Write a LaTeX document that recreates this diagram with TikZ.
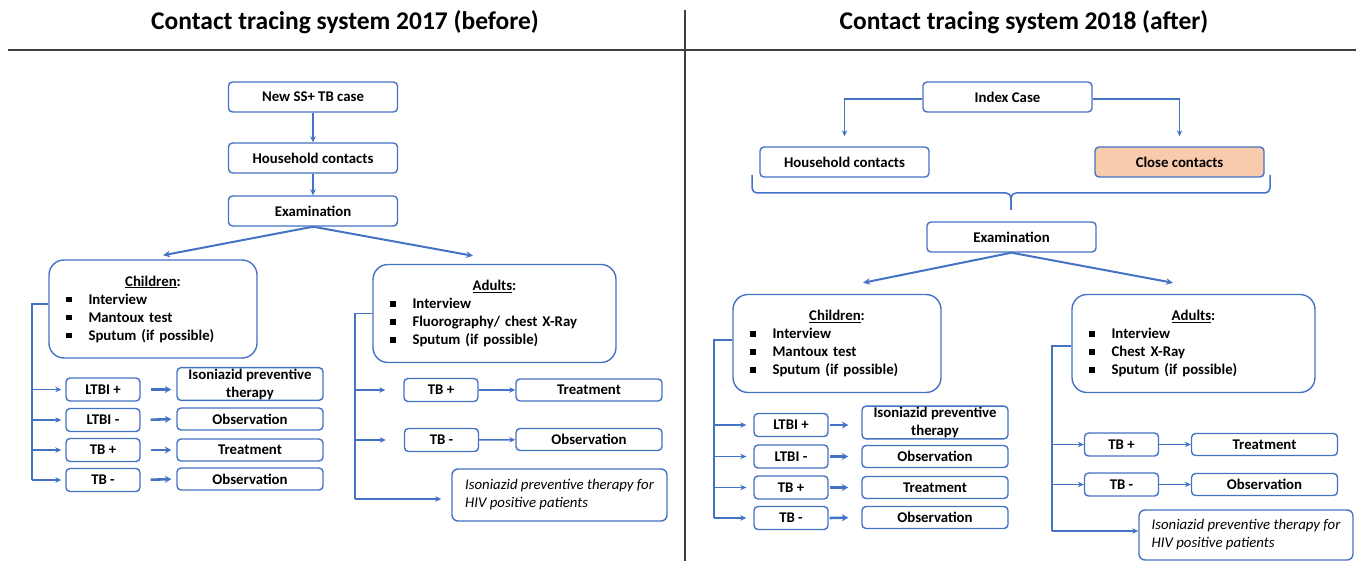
\documentclass[tikz,border=0pt]{standalone}
\usepackage{fontspec}
\setmainfont{Carlito}
\usepackage{tikz}
\usetikzlibrary{arrows.meta, positioning, calc}
\definecolor{boxblue}{HTML}{4472C4}
\definecolor{peach}{HTML}{F8CBAD}
\definecolor{rulegray}{HTML}{3F3F3F}
\newcommand{\boxfont}{\fontsize{14.8}{18}\selectfont\bfseries}
\newcommand{\bulletitem}[1]{\rule[2pt]{5.5pt}{5.5pt}\hspace{17pt}#1}
\tikzset{
  titletext/.style={font=\fontsize{25.5}{30}\selectfont\bfseries, inner sep=0pt},
  flowbox/.style={
    rectangle, rounded corners=4pt,
    minimum width=#1, minimum height=30pt, inner sep=1pt,
    align=center, font=\boxfont,
    draw=boxblue, line width=1.4pt, fill=white
  },
  flowbox/.default=169pt,
  tagbox/.style={flowbox=74pt, minimum height=23pt},
  outbox/.style={flowbox=146pt, minimum height=22pt},
  groupbox/.style={
    rectangle, rounded corners=15pt,
    minimum height=98pt, inner xsep=17pt,
    align=left, font=\boxfont,
    draw=boxblue, line width=1.4pt
  },
  notebox/.style={
    rectangle, rounded corners=6pt,
    minimum width=#1, minimum height=52pt,
    align=left, font=\fontsize{14.8}{18}\selectfont\itshape,
    draw=boxblue, line width=1.4pt
  },
  rulesep/.style={draw=rulegray, line width=1.3pt},
  trunk/.style={draw=boxblue, line width=1.5pt},
  arr/.style={-{Stealth[length=6pt,width=5.5pt]}, draw=boxblue, line width=1.5pt},
  splitarr/.style={-{Stealth[length=7pt,width=6.5pt]}, draw=boxblue, line width=2pt},
  thickarr/.style={-{Stealth[length=6.5pt,width=7pt]}, draw=boxblue, line width=2.6pt},
}

\begin{document}
\begin{tikzpicture}[x=1pt,y=-1pt]
  \useasboundingbox (0,0) rectangle (1356,561);
  \draw[rulesep](8,50)--(1356,50);
  \draw[rulesep](685,10)--(685,561);
  \node[titletext](ttl1)at(345,22){Contact tracing system 2017 (before)};
  \node[titletext](ttl2)at(1024,22){Contact tracing system 2018 (after)};

  \node[flowbox](new1)at(313,97){New SS+ TB case};
  \node[flowbox](hh1)at(313,158){Household contacts};
  \node[flowbox](ex1)at(313,211){Examination};
  \draw[arr](new1)--(hh1);
  \draw[arr](hh1)--(ex1);

  \node[groupbox,text width=174pt](kids1)at(153,309){\makebox[174pt]{\underline{Children}:}\\
    \bulletitem{Interview}\\ \bulletitem{Mantoux test}\\ \bulletitem{Sputum (if possible)}};
  \node[groupbox,text width=209pt](ad1)at(494.5,313.5){\makebox[209pt]{\underline{Adults}:}\\
    \bulletitem{Interview}\\ \bulletitem{Fluorography/ chest X-Ray}\\ \bulletitem{Sputum (if possible)}};
  \draw[splitarr](ex1.south)--([xshift=10pt,yshift=4pt]kids1.north);
  \draw[splitarr](ex1.south)--([xshift=-21.5pt,yshift=8pt]ad1.north);

  \node[tagbox](lp1)at(103,389.5){LTBI +};
  \node[tagbox](lm1)at(103,420){LTBI -};
  \node[tagbox](tp1)at(103,450){TB +};
  \node[tagbox](tm1)at(103,480){TB -};
  \node[outbox,minimum height=32pt](ipt1)at(250,384){Isoniazid preventive\\therapy};
  \node[outbox](obs1)at(250,419){Observation};
  \node[outbox](trt1)at(250,450){Treatment};
  \node[outbox](obs2)at(250,479){Observation};
  \coordinate(t1)at(32,480);
  \draw[trunk]([yshift=5pt]kids1.west)-|(t1);
  \draw[arr,shorten >=4pt](t1 |- lp1)--(lp1.west);
  \draw[arr,shorten >=4pt](t1 |- lm1)--(lm1.west);
  \draw[arr,shorten >=4pt](t1 |- tp1)--(tp1.west);
  \draw[arr,shorten >=4pt](t1)--(tm1.west);
  \draw[thickarr,shorten <=10pt,shorten >=5pt](lp1.east)--(lp1.east -| ipt1.west);
  \draw[thickarr,shorten <=10pt,shorten >=5pt](lm1.east)--(obs1.west);
  \draw[thickarr,shorten <=10pt,shorten >=5pt](tp1.east)--(trt1.west);
  \draw[thickarr,shorten <=10pt,shorten >=5pt](tm1.east)--(obs2.west);

  \node[tagbox](atp1)at(441,390){TB +};
  \node[tagbox](atm1)at(441.5,440){TB -};
  \node[outbox](atrt1)at(589,390){Treatment};
  \node[outbox](aobs1)at(589,439.5){Observation};
  \node[notebox=215pt](hiv1)at(559.5,495){Isoniazid preventive therapy for\\HIV positive patients};
  \coordinate(t2)at(355,499);
  \draw[trunk](ad1.west)-|(t2);
  \draw[arr,shorten >=18pt](t2 |- atp1)--(atp1.west);
  \draw[arr,shorten >=18pt](t2 |- atm1)--(atm1.west);
  \draw[arr,shorten >=10pt](t2)--(t2 -| hiv1.west);
  \draw[arr](atp1)--(atrt1);
  \draw[arr](atm1)--(aobs1);

  \node[flowbox](idx)at(1007.5,97){Index Case};
  \node[flowbox](hh2)at(844.5,162){Household contacts};
  \node[flowbox,fill=peach](cc2)at(1179.5,162){Close contacts};
  \draw[arr,shorten >=10pt]([yshift=-2pt]idx.west)-|(hh2.north);
  \draw[arr,shorten >=10pt]([yshift=-2pt]idx.east)-|(cc2.north);
  \draw[trunk,rounded corners=5pt](752,175)|-(1011,193)--(1011,210);
  \draw[trunk,rounded corners=5pt](1270,175)|-(1011,193)--(1011,210);
  \node[flowbox](ex2)at(1011.5,237){Examination};

  \node[groupbox,text width=174pt](kids2)at(837,343.5){\makebox[174pt]{\underline{Children}:}\\
    \bulletitem{Interview}\\ \bulletitem{Mantoux test}\\ \bulletitem{Sputum (if possible)}};
  \node[groupbox,text width=209pt](ad2)at(1193.5,343.5){\makebox[209pt]{\underline{Adults}:}\\
    \bulletitem{Interview}\\ \bulletitem{Chest X-Ray}\\ \bulletitem{Sputum (if possible)}};
  \draw[splitarr](ex2.south)--([xshift=26pt,yshift=11pt]kids2.north);
  \draw[splitarr](ex2.south)--([xshift=-20.5pt,yshift=11pt]ad2.north);

  \node[tagbox](lp2)at(791,425){LTBI +};
  \node[tagbox](lm2)at(791,456.5){LTBI -};
  \node[tagbox](tp2)at(791,487.5){TB +};
  \node[tagbox](tm2)at(791,518){TB -};
  \node[outbox,minimum height=31pt](ipt2)at(935,422.5){Isoniazid preventive\\therapy};
  \node[outbox](obs3)at(935,456.5){Observation};
  \node[outbox](trt2)at(935,487.5){Treatment};
  \node[outbox](obs4)at(935,517.5){Observation};
  \coordinate(t3)at(714,518);
  \draw[trunk]([yshift=3.5pt]kids2.west)-|(t3);
  \draw[arr,shorten >=7pt](t3 |- lp2)--(lp2.west);
  \draw[arr,shorten >=7pt](t3 |- lm2)--(lm2.west);
  \draw[arr,shorten >=7pt](t3 |- tp2)--(tp2.west);
  \draw[arr,shorten >=7pt](t3)--(tm2.west);
  \draw[thickarr,shorten <=1pt,shorten >=13pt](lp2.east)--(lp2.east -| ipt2.west);
  \draw[thickarr,shorten <=1pt,shorten >=13pt](lm2.east)--(obs3.west);
  \draw[thickarr,shorten <=1pt,shorten >=13pt](tp2.east)--(trt2.west);
  \draw[thickarr,shorten <=1pt,shorten >=13pt](tm2.east)--(obs4.west);

  \node[tagbox](atp2)at(1121.5,444.5){TB +};
  \node[tagbox](atm2)at(1121.5,484.5){TB -};
  \node[outbox](atrt2)at(1264.5,444.5){Treatment};
  \node[outbox](aobs2)at(1264.5,484.5){Observation};
  \node[notebox=214pt,minimum height=50pt](hiv2)at(1246,535){Isoniazid preventive therapy for\\HIV positive patients};
  \coordinate(t4)at(1052,531);
  \draw[trunk]([yshift=-2.5pt]ad2.west)-|(t4);
  \draw[arr](t4 |- atp2)--(atp2.west);
  \draw[arr](t4 |- atm2)--(atm2.west);
  \draw[arr](t4)--(t4 -| hiv2.west);
  \draw[arr](atp2)--(atrt2);
  \draw[arr](atm2)--(aobs2);
\end{tikzpicture}
\end{document}
